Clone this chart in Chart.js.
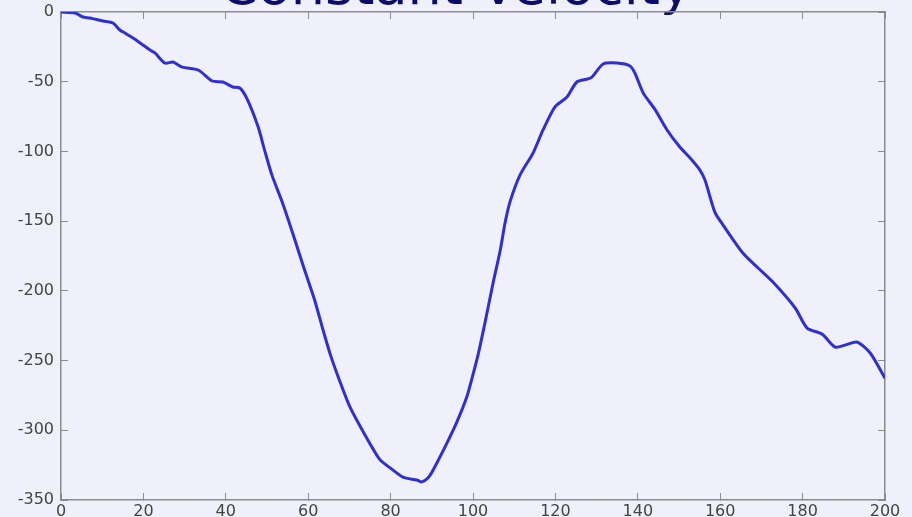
<!DOCTYPE html>
<html>
<head>
<meta charset="utf-8">
<title>Constant Velocity</title>
<script src="https://cdn.jsdelivr.net/npm/chart.js@4/dist/chart.umd.min.js"></script>
<style>
  html, body { margin: 0; padding: 0; background: #f0f0fa; overflow: hidden; }
  canvas { display: block; }
</style>
</head>
<body>
<canvas id="chart" width="912" height="517"></canvas>
<script>
// Sample index (x) and measured position (y)
const sampleX = [
  0, 3.4, 5.3, 7, 10.2, 12.6, 14.3, 15.5, 17.5, 19.2, 21.6, 22.8, 25.2, 27.2, 29.4,
  33.3, 36.7, 39.3, 41.7, 43.4, 45.1, 47.8, 49.5, 51.2, 53.9, 56.5, 59, 61.5, 63.5,
  65.3, 67.2, 70.1, 74.3, 77.4, 79.9, 83, 86.4, 87.6, 89.1, 90.3, 93.7, 96.1, 98.5,
  100, 101.3, 102.9, 104.9, 106.6, 107.8, 109, 111.4, 114.6, 117, 119.9, 122.8, 125.2,
  127.9, 128.9, 131.6, 135, 138.1, 139.3, 141.3, 144.2, 147.1, 150.2, 152.7, 155,
  156.3, 158.7, 160.7, 165.5, 169.2, 172.8, 178.2, 181.1, 184.7, 187.9, 190.3, 193.2,
  196.4, 200
];
const sampleY = [
  0, -0.7, -3.6, -4.3, -6.5, -7.9, -12.9, -15, -18.7, -22.2, -27.3, -29.4, -36.6, -35.9, -39.5,
  -41.6, -49.5, -50.2, -53.8, -54.5, -62, -82, -100, -117, -138, -161, -184, -206, -227,
  -245, -261, -283, -306, -321, -327, -333.6, -335.7, -337, -334, -328.6, -309, -294, -276,
  -260, -245, -223, -194, -171, -151, -136, -117, -101, -84.6, -68, -61, -50.2,
  -48, -46.6, -37.3, -36.6, -38.7, -43.8, -58, -70, -84.6, -96.8, -104.7, -113,
  -120.5, -143.5, -152.8, -172.9, -183.6, -193.7, -212.3, -226.7, -231, -240.3, -238.9, -236.7,
  -244.6, -262.6
];

// Axis ranges and tick spacing
const xRange = [0, 200];
const xStep = 20;
const yRange = [-350, 0];
const yStep = 50;

const titleText = 'Constant Velocity';

const points = sampleX.map((x, i) => ({ x: x, y: sampleY[i] }));

const boxColor = '#8c8c8c';
const tickFont = { family: 'DejaVu Sans', size: 16 };

// Box-style axis: border plus short inward tick marks, no grid on the plot
function boxGrid() {
  return { drawOnChartArea: false, drawTicks: true, tickLength: -7, color: boxColor, lineWidth: 1 };
}

// Fix each axis band to a set thickness and drop the label overflow padding,
// so the plot box sits exactly inside the margins
function fixSize(prop, size) {
  return s => {
    s[prop] = size;
    s.paddingTop = 0; s.paddingBottom = 0; s.paddingLeft = 0; s.paddingRight = 0;
  };
}

new Chart(document.getElementById('chart'), {
  type: 'line',
  data: {
    datasets: [{
      data: points,
      borderColor: '#2f2fd2',
      borderWidth: 3,
      pointRadius: 0,
      tension: 0.25,
      fill: false,
      xAxisID: 'x',
      yAxisID: 'y'
    }]
  },
  options: {
    responsive: false,
    animation: false,
    devicePixelRatio: 1,
    layout: { padding: 0 },
    plugins: {
      legend: { display: false },
      tooltip: { enabled: false },
      title: {
        display: true,
        text: titleText,
        color: '#0c0c6a',
        font: { family: 'DejaVu Sans', size: 54, weight: 'normal' },
        padding: { top: -42, bottom: -22.8 }
      }
    },
    scales: {
      x: {
        type: 'linear',
        position: 'bottom',
        min: xRange[0], max: xRange[1],
        grid: boxGrid(),
        border: { display: true, color: boxColor, width: 1.5 },
        ticks: { stepSize: xStep, color: '#444', font: tickFont, padding: 9, maxRotation: 0 },
        afterFit: fixSize('height', 17)
      },
      xTop: {
        type: 'linear',
        position: 'top',
        min: xRange[0], max: xRange[1],
        grid: boxGrid(),
        border: { display: true, color: boxColor, width: 1.5 },
        ticks: { stepSize: xStep, display: false },
        afterFit: fixSize('height', 12)
      },
      y: {
        type: 'linear',
        position: 'left',
        min: yRange[0], max: yRange[1],
        grid: boxGrid(),
        border: { display: true, color: boxColor, width: 1.5 },
        ticks: { stepSize: yStep, color: '#444', font: tickFont, padding: 14 },
        afterFit: fixSize('width', 61)
      },
      yRight: {
        type: 'linear',
        position: 'right',
        min: yRange[0], max: yRange[1],
        grid: boxGrid(),
        border: { display: true, color: boxColor, width: 1.5 },
        ticks: { stepSize: yStep, display: false },
        afterFit: fixSize('width', 27)
      }
    }
  }
});
</script>
</body>
</html>
